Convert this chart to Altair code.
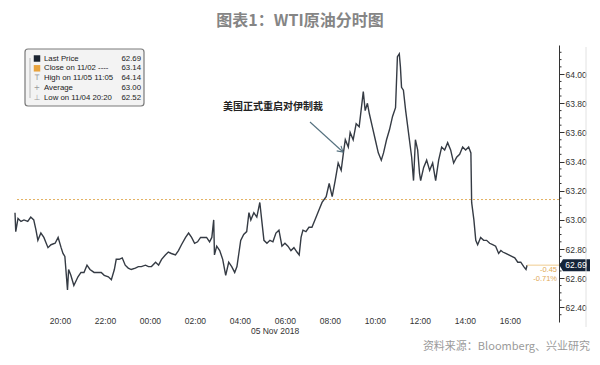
import altair as alt
import pandas as pd

# ---- data ----
minutes = [0, 2, 8, 16, 24, 34, 42, 50, 56, 61,
           69, 77, 88, 96, 107, 115, 123, 128, 133, 140,
           143, 149, 157, 168, 176, 184, 192, 200, 211, 222,
           230, 238, 249, 257, 265, 270, 278, 286, 294, 302,
           310, 321, 329, 337, 348, 356, 364, 375, 383, 391,
           401, 409, 417, 428, 436, 444, 455, 463, 471, 479,
           487, 495, 503, 511, 519, 525, 530, 532, 538, 546,
           554, 562, 570, 578, 586, 592, 597, 602, 610, 618,
           624, 629, 637, 645, 653, 658, 664, 672, 680, 688,
           696, 704, 712, 720, 728, 736, 744, 752, 758, 763,
           768, 776, 784, 792, 800, 811, 819, 830, 838, 846,
           854, 862, 870, 876, 881, 889, 894, 902, 910, 918,
           924, 929, 934, 940, 945, 953, 961, 969, 977, 983,
           991, 999, 1007, 1015, 1020, 1025, 1028, 1031, 1036, 1042,
           1047, 1052, 1058, 1063, 1068, 1074, 1079, 1082, 1090, 1098,
           1106, 1114, 1122, 1130, 1138, 1146, 1154, 1162, 1170, 1178,
           1186, 1194, 1202, 1210, 1216, 1218, 1224, 1229, 1234, 1242,
           1250, 1258, 1266, 1274, 1282, 1290, 1296, 1301, 1309, 1317,
           1325, 1333, 1341, 1349, 1357, 1363, 1366]
prices = [63.05, 62.92, 63.01, 62.99, 63.00, 62.99, 63.02, 63.00, 62.93, 62.86,
          62.91, 62.88, 62.81, 62.83, 62.84, 62.88, 62.81, 62.77, 62.75, 62.52,
          62.66, 62.62, 62.55, 62.61, 62.64, 62.64, 62.69, 62.66, 62.64, 62.64,
          62.64, 62.62, 62.61, 62.59, 62.66, 62.73, 62.73, 62.74, 62.69, 62.67,
          62.66, 62.67, 62.68, 62.68, 62.69, 62.68, 62.68, 62.71, 62.69, 62.73,
          62.76, 62.78, 62.77, 62.76, 62.79, 62.83, 62.88, 62.91, 62.88, 62.84,
          62.85, 62.88, 62.88, 62.88, 62.85, 62.88, 63.00, 62.76, 62.82, 62.79,
          62.73, 62.62, 62.71, 62.68, 62.64, 62.68, 62.77, 62.86, 62.90, 62.92,
          63.05, 63.00, 63.05, 63.02, 63.12, 63.00, 62.86, 62.84, 62.86, 62.85,
          62.91, 62.93, 62.82, 62.84, 62.82, 62.79, 62.81, 62.78, 62.76, 62.88,
          62.93, 62.92, 62.95, 62.95, 63.00, 63.07, 63.12, 63.16, 63.25, 63.16,
          63.27, 63.39, 63.34, 63.46, 63.55, 63.50, 63.60, 63.55, 63.66, 63.64,
          63.77, 63.88, 63.75, 63.80, 63.73, 63.64, 63.55, 63.46, 63.41, 63.46,
          63.55, 63.62, 63.71, 63.77, 64.12, 64.14, 64.05, 63.91, 63.89, 63.75,
          63.65, 63.55, 63.43, 63.27, 63.55, 63.48, 63.32, 63.27, 63.36, 63.41,
          63.34, 63.39, 63.27, 63.41, 63.50, 63.48, 63.53, 63.48, 63.39, 63.43,
          63.45, 63.50, 63.48, 63.50, 63.46, 63.12, 63.00, 62.86, 62.83, 62.88,
          62.86, 62.86, 62.84, 62.83, 62.82, 62.77, 62.79, 62.78, 62.77, 62.76,
          62.75, 62.74, 62.71, 62.71, 62.68, 62.66, 62.69]

close_price = 63.14
last_price = 62.69
legend_names = ["Last Price", "Close on 11/02 ----", "High on 11/05 11:05", "Average", "Low on 11/04 20:20"]
legend_values = ["62.69", "63.14", "64.14", "63.00", "62.52"]
change_texts = ["-0.45", "-0.71%"]
y_major_ticks = [62.40, 62.60, 62.80, 63.00, 63.20, 63.40, 63.60, 63.80, 64.00]
y_minor_ticks = [62.35, 62.45, 62.50, 62.55, 62.65, 62.70, 62.75, 62.85, 62.90, 62.95,
                 63.05, 63.10, 63.15, 63.25, 63.30, 63.35, 63.45, 63.50, 63.55, 63.65,
                 63.70, 63.75, 63.85, 63.90, 63.95, 64.05, 64.10, 64.15]
x_tick_hours = [(4, 20), (4, 22), (5, 0), (5, 2), (5, 4), (5, 6), (5, 8), (5, 10), (5, 12), (5, 14), (5, 16)]

start = pd.Timestamp("2018-11-04 18:00")
times = [(start + pd.Timedelta(minutes=m)).strftime("%Y-%m-%dT%H:%M:%S") for m in minutes]
df = pd.DataFrame({"time": times, "price": prices})

W, H = 544, 277
FONT = "Liberation Sans"
CJK = "Noto Sans CJK SC"

x_scale = alt.Scale(domain=[alt.DateTime(year=2018, month=11, date=4, hours=18, minutes=0),
                            alt.DateTime(year=2018, month=11, date=5, hours=18, minutes=11)])
y_scale = alt.Scale(domain=[62.3, 64.2], zero=False, nice=False)

y_axis = alt.Axis(orient="right", values=y_major_ticks, title=None, format=".2f",
                  tickSize=5, labelOverlap=False, labelBound=False, labelFlush=False,
                  grid=False, domainColor="#333333", tickColor="#333333",
                  labelColor="#333333", labelFont=FONT, labelFontSize=8.5, labelPadding=1)
x_axis = alt.Axis(values=[alt.DateTime(year=2018, month=11, date=d, hours=h) for d, h in x_tick_hours],
                  format="%H:%M", title=None, domain=False, ticks=False, grid=False,
                  offset=-8, labelPadding=2, labelFont=FONT, labelFontSize=8.5,
                  labelColor="#333333", labelFlush=False, labelOverlap=False)

one = pd.DataFrame({"a": [0]})


def Y(field):
    return alt.Y(field, scale=y_scale, axis=y_axis)


def X(field):
    return alt.X(field, scale=x_scale, axis=x_axis)


close_rule = alt.Chart(pd.DataFrame({"v": [close_price]})).mark_rule(
    color="#e3b060", strokeDash=[2, 2], strokeWidth=1
).encode(y=Y("v:Q"))

minor = alt.Chart(pd.DataFrame({"v": y_minor_ticks})).mark_rule(
    color="#333333", strokeWidth=1
).encode(y=Y("v:Q"), x=alt.value(W), x2=alt.value(W + 2.5))

line = alt.Chart(df).mark_line(color="#353b44", strokeWidth=1.4).encode(
    x=X("time:T"), y=Y("price:Q"))

last_df = pd.DataFrame({"time": [times[-1]], "price": [last_price], "label": [f"{last_price:.2f}"]})
last_stub = alt.Chart(last_df).mark_rule(color="#f0cc90", strokeWidth=1).encode(
    x=X("time:T"), x2=alt.value(W), y=Y("price:Q"))
tag_shape = "M-1.55,0 L-1.2,-0.6 L1.5,-0.6 L1.5,0.6 L-1.2,0.6 Z"
last_tag = alt.Chart(last_df).mark_point(shape=tag_shape, filled=True, size=400, opacity=1,
                                         color="#15243a").encode(
    x=alt.value(W + 16), y=Y("price:Q"))
last_txt = alt.Chart(last_df).mark_text(color="white", fontSize=8.5, font=FONT, align="center",
                                        baseline="middle", dx=1).encode(
    x=alt.value(W + 16), y=Y("price:Q"), text="label:N")

layers = [close_rule, minor, line, last_stub, last_tag, last_txt]

for i, t in enumerate(change_texts):
    layers.append(alt.Chart(one).mark_text(color="#e0a955", fontSize=7.5, font=FONT, align="right",
                                           baseline="middle").encode(
        x=alt.value(542), y=alt.value(225 + i * 9), text=alt.value(t)))

# legend box
layers.append(alt.Chart(one).mark_rect(fill="#f3f3f3", stroke="#7a7a7a", strokeWidth=1.2,
                                       cornerRadius=3).encode(
    x=alt.value(10), x2=alt.value(129), y=alt.value(4), y2=alt.value(61)))
layers.append(alt.Chart(one).mark_rule(color="#aaaaaa", strokeWidth=0.8).encode(
    x=alt.value(15), y=alt.value(13), y2=alt.value(53)))
icon_colors = ["#1b2430", "#e8a33d"]
for i, (n, v) in enumerate(zip(legend_names, legend_values)):
    yy = 13.5 + i * 9.8
    layers.append(alt.Chart(one).mark_text(color="#222222", fontSize=7.8, font=FONT, align="left",
                                           baseline="middle").encode(
        x=alt.value(29), y=alt.value(yy), text=alt.value(n)))
    layers.append(alt.Chart(one).mark_text(color="#222222", fontSize=7.8, font=FONT, align="right",
                                           baseline="middle").encode(
        x=alt.value(126), y=alt.value(yy), text=alt.value(v)))
    if i < 2:
        layers.append(alt.Chart(one).mark_point(shape="square", filled=True, size=42, opacity=1,
                                                color=icon_colors[i]).encode(
            x=alt.value(22), y=alt.value(yy)))
    else:
        glyph = ["T", "+", "⊥"][i - 2]
        layers.append(alt.Chart(one).mark_text(color="#999999", fontSize=7.5, font="DejaVu Sans",
                                               align="center", baseline="middle").encode(
            x=alt.value(22), y=alt.value(yy), text=alt.value(glyph)))

# annotation + arrow
layers.append(alt.Chart(one).mark_text(color="#222222", fontSize=10, font=CJK, fontWeight="bold",
                                       align="center", baseline="middle").encode(
    x=alt.value(258), y=alt.value(62), text=alt.value("美国正式重启对伊制裁")))
layers.append(alt.Chart(one).mark_rule(color="#54707e", strokeWidth=1.1).encode(
    x=alt.value(295), y=alt.value(77), x2=alt.value(328), y2=alt.value(107)))
layers.append(alt.Chart(one).mark_point(shape="M -0.6 1 L 0 0 L 0.6 1", filled=False, size=120,
                                        strokeWidth=1.1, angle=131, color="#54707e", opacity=1).encode(
    x=alt.value(328), y=alt.value(107)))

# date label, title, source, right frame line
layers.append(alt.Chart(one).mark_text(color="#333333", fontSize=8.5, font=FONT, align="center",
                                       baseline="middle").encode(
    x=alt.value(260), y=alt.value(286), text=alt.value("05 Nov 2018")))
layers.append(alt.Chart(one).mark_text(color="#858585", fontSize=16, font=CJK, fontWeight="bold",
                                       align="center", baseline="middle").encode(
    x=alt.value(285), y=alt.value(-24), text=alt.value("图表1：WTI原油分时图")))
layers.append(alt.Chart(one).mark_text(color="#9a9a9a", fontSize=11, font=CJK, align="right",
                                       baseline="middle").encode(
    x=alt.value(575), y=alt.value(302), text=alt.value("资料来源：Bloomberg、兴业研究")))
layers.append(alt.Chart(one).mark_rule(color="#e2e2e2", strokeWidth=1).encode(
    x=alt.value(571), y=alt.value(2), y2=alt.value(282)))

chart = alt.layer(*layers).properties(
    width=W, height=H,
    autosize=alt.AutoSizeParams(type="none"),
    padding={"left": 7, "top": 37, "right": 33, "bottom": 36},
    background="white",
).configure_view(stroke=None)

chart.save("out.html", embed_options={"renderer": "svg", "actions": False})
